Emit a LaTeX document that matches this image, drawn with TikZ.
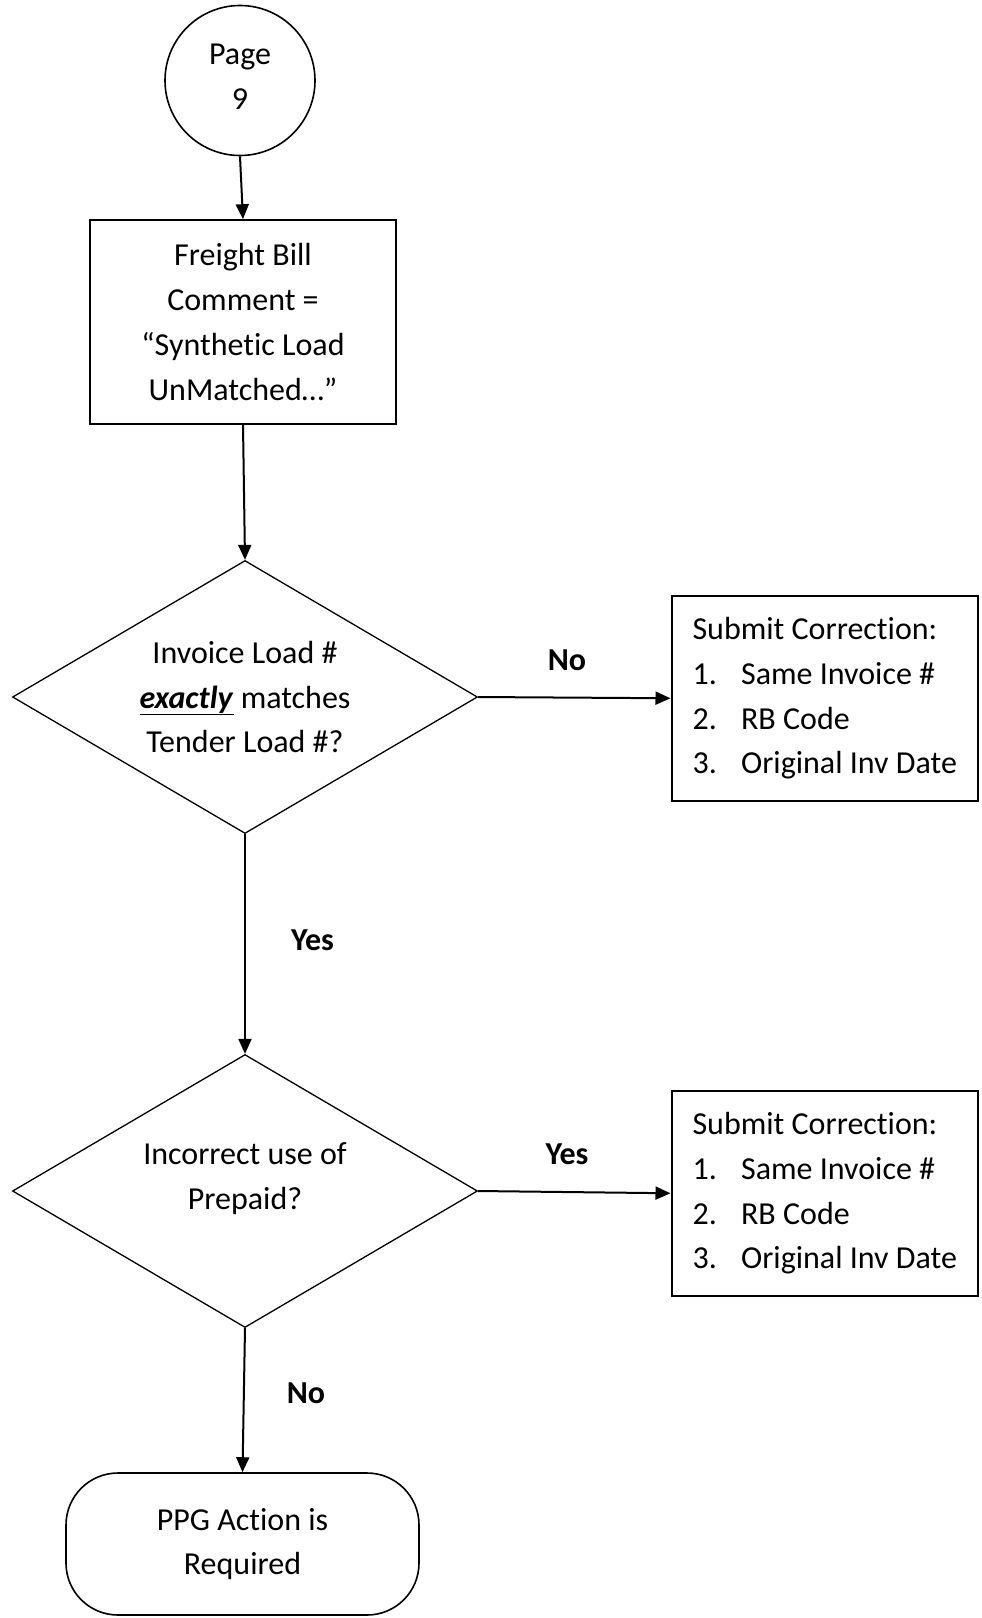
\documentclass[tikz,border=0pt]{standalone}
\usepackage{fontspec}
\setmainfont{Carlito}[Ligatures={NoCommon}]
\usetikzlibrary{shapes.geometric,arrows.meta}
\begin{document}
\begin{tikzpicture}[x=1pt,y=-1pt,
  base/.style={font=\fontsize{32}{44.9}\selectfont, line width=1.6pt, draw=black},
  procbox/.style={base, rectangle, minimum width=306pt, minimum height=204pt, align=center, inner sep=0pt},
  decide/.style={base, diamond, aspect=1.7, minimum width=465pt, minimum height=273pt, align=center, inner sep=0pt, line width=1.3pt},
  corrbox/.style={base, rectangle, line width=2pt, minimum width=306.5pt, minimum height=204.5pt, inner sep=0pt, align=left},
  term/.style={base, rectangle, rounded corners=52pt, minimum width=353pt, minimum height=142pt, align=center},
  conn/.style={circle, base, minimum size=150pt, inner sep=0pt, align=center},
  lbl/.style={font=\fontsize{32}{44.9}\selectfont\bfseries},
  arr/.style={line width=2pt, -{Triangle[length=15pt,width=13pt]}}
]
\useasboundingbox (0,0) rectangle (982,1618);
\fill[white] (0,0) rectangle (982,1618);

\node[conn] (pg) at (240,80.5) {Page\\9\\[-37pt]\mbox{}};
\node[procbox] (fb) at (243,322) {Freight Bill\\Comment =\\“Synthetic Load\\UnMatched…”};
\node[decide] (d1) at (245,697) {Invoice Load \#\\\underline{\textbf{\textit{exactly}}} matches\\Tender Load \#?};
\node[corrbox] (c1) at (824.75,698.25) {Submit Correction:\\\makebox[48.6pt][l]{1.}Same Invoice \#\\\makebox[48.6pt][l]{2.}RB Code\\\makebox[48.6pt][l]{3.}Original Inv Date};
\node[decide] (d2) at (245,1191) {Incorrect use of\\Prepaid?\\[-15pt]\mbox{}};
\node[corrbox] (c2) at (824.75,1193.25) {Submit Correction:\\\makebox[48.6pt][l]{1.}Same Invoice \#\\\makebox[48.6pt][l]{2.}RB Code\\\makebox[48.6pt][l]{3.}Original Inv Date};
\node[term] (pp) at (242.5,1544) {PPG Action is\\Required};

\node[lbl] (l1) at (567,660) {No};
\node[lbl] (l2) at (312.5,940) {Yes};
\node[lbl] (l3) at (567,1154) {Yes};
\node[lbl] (l4) at (306,1393.5) {No};

\draw[arr] (pg.south) -- (fb.north);
\draw[arr] (fb.south) -- (d1.north);
\draw[arr] (d1.east) -- (c1.west);
\draw[arr] (d1.south) -- (d2.north);
\draw[arr] (d2.east) -- (c2.west);
\draw[arr] (d2.south) -- (pp.north);
\end{tikzpicture}
\end{document}
